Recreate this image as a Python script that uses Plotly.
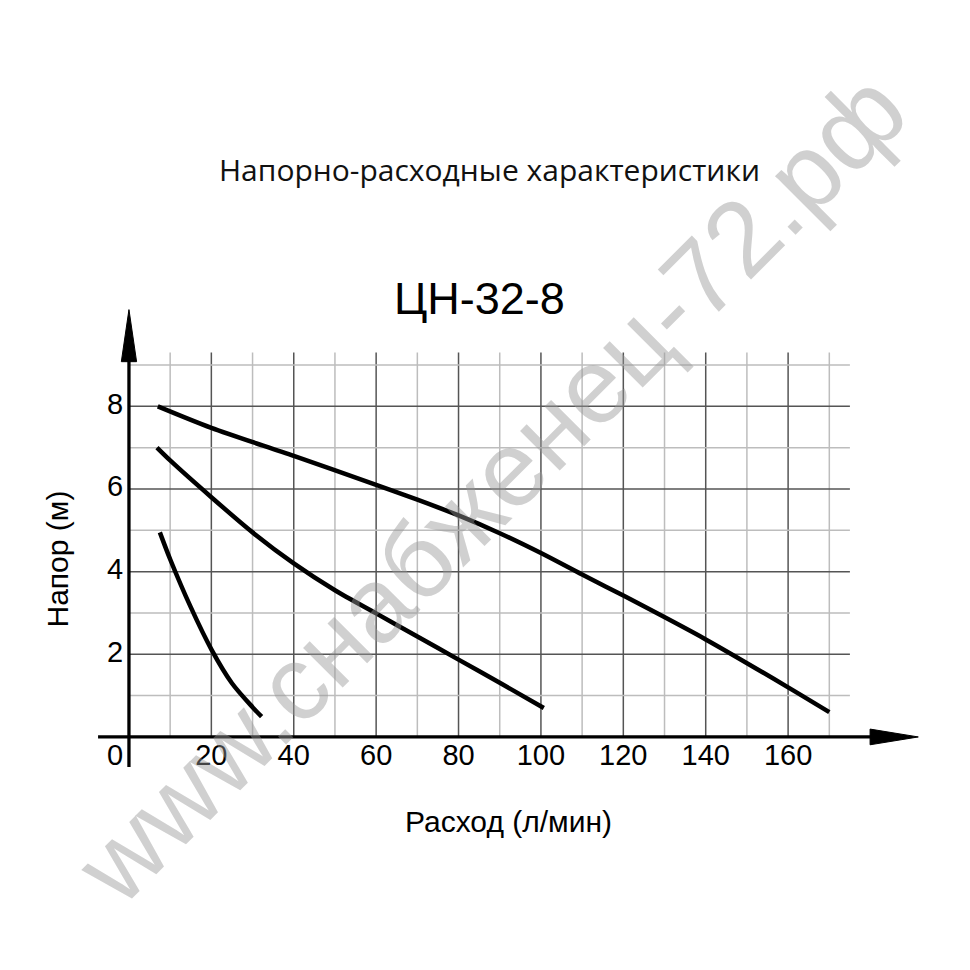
import plotly.graph_objects as go

# ---- data ----
flow_top = [7, 20, 40, 60, 70, 80, 90, 100, 110, 120, 140, 160, 170]
head_top = [8.0, 7.48, 6.8, 6.1, 5.74, 5.36, 4.93, 4.45, 3.93, 3.42, 2.36, 1.2, 0.6]

flow_mid = [6.8, 10, 20, 30, 40, 50, 60, 70, 80, 90, 100.7]
head_mid = [7.0, 6.69, 5.8, 4.95, 4.2, 3.55, 2.99, 2.43, 1.87, 1.31, 0.7]

flow_low = [7.5, 10, 15, 20, 25, 30, 32.2]
head_low = [4.95, 4.3, 3.14, 2.12, 1.3, 0.72, 0.49]

x_ticks = [20, 40, 60, 80, 100, 120, 140, 160]
y_ticks = [2, 4, 6, 8]
x_grid = [10, 20, 30, 40, 50, 60, 70, 80, 90, 100, 110, 120, 130, 140, 150, 160, 170]
y_grid = [1, 2, 3, 4, 5, 6, 7, 8, 9]

FONT = "Liberation Sans, Arial, sans-serif"

fig = go.Figure()

shapes = []
# grid
for gx in x_grid:
    major = gx % 20 == 0
    shapes.append(dict(type="line", xref="x", yref="y", x0=gx, x1=gx, y0=0, y1=9.3,
                       line=dict(color="#555555" if major else "#bdbdbd", width=1.5), layer="below"))
for gy in y_grid:
    major = gy % 2 == 0
    shapes.append(dict(type="line", xref="x", yref="y", x0=0, x1=175, y0=gy, y1=gy,
                       line=dict(color="#555555" if major else "#bdbdbd", width=1.5), layer="below"))
# axes
shapes.append(dict(type="line", xref="x", yref="y", x0=-7.5, x1=181, y0=0, y1=0,
                   line=dict(color="black", width=3.3)))
shapes.append(dict(type="line", xref="x", yref="y", x0=0, x1=0, y0=-0.73, y1=9.2,
                   line=dict(color="black", width=3.3)))
# arrow heads
shapes.append(dict(type="path", xref="x", yref="y",
                   path="M 179.9 0.19 L 191.6 0 L 179.9 -0.19 Z",
                   fillcolor="black", line=dict(color="black", width=1)))
shapes.append(dict(type="path", xref="x", yref="y",
                   path="M -1.85 9.08 L 0 10.34 L 1.85 9.08 Z",
                   fillcolor="black", line=dict(color="black", width=1)))

for fx, hy in [(flow_top, head_top), (flow_mid, head_mid), (flow_low, head_low)]:
    fig.add_trace(go.Scatter(x=fx, y=hy, mode="lines",
                             line=dict(color="black", width=4.5, shape="spline", smoothing=0.8),
                             hoverinfo="skip", showlegend=False))

# tick labels
fig.add_trace(go.Scatter(x=x_ticks, y=[-0.5] * len(x_ticks), mode="text",
                         text=[str(v) for v in x_ticks], textposition="middle center",
                         textfont=dict(family=FONT, size=29, color="black"),
                         cliponaxis=False, showlegend=False, hoverinfo="skip"))
fig.add_trace(go.Scatter(x=[-3.4] * len(y_ticks), y=y_ticks, mode="text",
                         text=[str(v) for v in y_ticks], textposition="middle center",
                         textfont=dict(family=FONT, size=29, color="black"),
                         cliponaxis=False, showlegend=False, hoverinfo="skip"))
fig.add_trace(go.Scatter(x=[-3.4], y=[-0.5], mode="text", text=["0"],
                         textposition="middle center",
                         textfont=dict(family=FONT, size=29, color="black"),
                         cliponaxis=False, showlegend=False, hoverinfo="skip"))

annotations = [
    dict(text="Напорно-расходные характеристики", xref="paper", yref="paper",
         x=0.4758, y=1.285, xanchor="center", yanchor="middle", showarrow=False,
         font=dict(family="Open Sans, sans-serif", size=30, color="#111111")),
    dict(text="ЦН-32-8", xref="paper", yref="paper",
         x=0.4637, y=1.0107, xanchor="center", yanchor="middle", showarrow=False,
         font=dict(family=FONT, size=45, color="black")),
    dict(text="Расход (л/мин)", xref="paper", yref="paper",
         x=0.4988, y=-0.111, xanchor="center", yanchor="middle", showarrow=False,
         font=dict(family=FONT, size=30, color="black")),
    dict(text="Напор (м)", xref="paper", yref="paper",
         x=-0.0466, y=0.4518, xanchor="center", yanchor="middle", showarrow=False,
         textangle=-90, font=dict(family=FONT, size=30, color="black")),
    dict(text="www.снабженец-72.рф", xref="paper", yref="paper",
         x=0.477, y=0.604, xanchor="center", yanchor="middle", showarrow=False,
         textangle=-45, font=dict(family=FONT, size=106, color="rgba(150,150,150,0.45)")),
]

fig.update_layout(
    width=970, height=970,
    margin=dict(l=88, r=56, t=295, b=208),
    paper_bgcolor="white", plot_bgcolor="white",
    xaxis=dict(range=[-8, 192.5], visible=False, fixedrange=True),
    yaxis=dict(range=[-0.8, 10.5], visible=False, fixedrange=True),
    shapes=shapes, annotations=annotations, showlegend=False,
)

fig.write_html("out.html")
